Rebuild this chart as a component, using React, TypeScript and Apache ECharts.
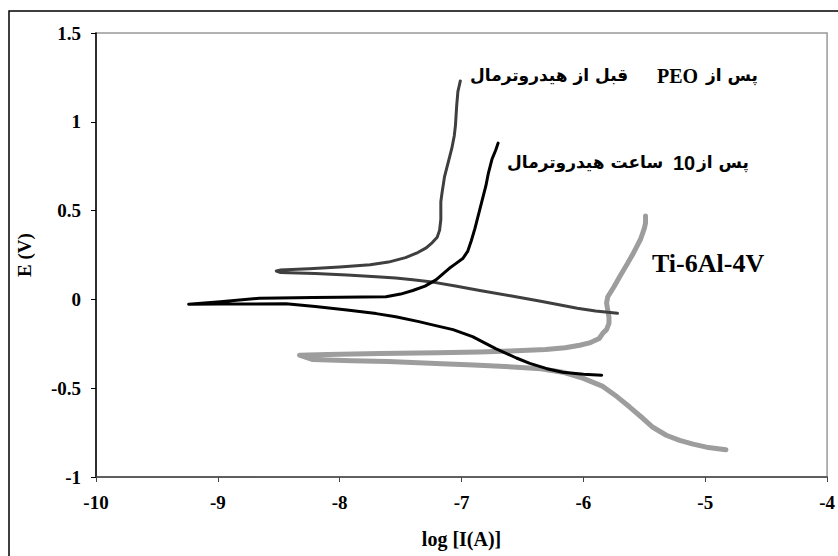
import React, { useEffect, useRef } from "react";
import * as echarts from "echarts";

// Tafel curves: [log I (A), E (V)] pairs in drawing order
const peoBefore: [number, number][] = [
  [-7.01, 1.23], [-7.02, 1.2], [-7.03, 1.17], [-7.04, 1.09], [-7.05, 0.98],
  [-7.06, 0.92], [-7.08, 0.85], [-7.11, 0.77], [-7.14, 0.69], [-7.16, 0.6],
  [-7.17, 0.55], [-7.17, 0.45], [-7.18, 0.39], [-7.2, 0.35], [-7.24, 0.32],
  [-7.29, 0.29], [-7.37, 0.26], [-7.46, 0.235], [-7.6, 0.21], [-7.75, 0.195],
  [-8.0, 0.182], [-8.25, 0.172], [-8.49, 0.165], [-8.52, 0.16],
  [-8.49, 0.152], [-8.2, 0.146], [-7.94, 0.138], [-7.7, 0.128], [-7.54, 0.12],
  [-7.4, 0.11], [-7.26, 0.1], [-7.05, 0.075], [-6.85, 0.05], [-6.6, 0.02],
  [-6.35, -0.01], [-6.2, -0.03], [-6.05, -0.05], [-5.9, -0.065], [-5.72, -0.078],
];

const after10h: [number, number][] = [
  [-6.7, 0.88], [-6.72, 0.84], [-6.75, 0.79], [-6.78, 0.71], [-6.8, 0.64],
  [-6.83, 0.56], [-6.86, 0.48], [-6.89, 0.4], [-6.92, 0.33], [-6.95, 0.27],
  [-6.99, 0.23], [-7.05, 0.2], [-7.1, 0.175], [-7.16, 0.14], [-7.21, 0.11],
  [-7.3, 0.075], [-7.4, 0.05], [-7.5, 0.03], [-7.62, 0.015], [-8.0, 0.012],
  [-8.22, 0.011], [-8.5, 0.008], [-8.66, 0.006], [-8.98, -0.013], [-9.24, -0.027],
  [-8.98, -0.026], [-8.44, -0.025], [-8.2, -0.04], [-7.94, -0.06], [-7.7, -0.08],
  [-7.54, -0.098], [-7.35, -0.125], [-7.23, -0.145], [-7.07, -0.17], [-6.91, -0.21],
  [-6.72, -0.277], [-6.55, -0.33], [-6.44, -0.36], [-6.3, -0.39], [-6.17, -0.41],
  [-6.0, -0.422], [-5.85, -0.427],
];

const tiAlloy: [number, number][] = [
  [-5.49, 0.47], [-5.49, 0.43], [-5.5, 0.4], [-5.53, 0.34], [-5.56, 0.3],
  [-5.59, 0.26], [-5.64, 0.2], [-5.7, 0.13], [-5.75, 0.07], [-5.8, 0.015],
  [-5.81, -0.02], [-5.8, -0.06], [-5.79, -0.1], [-5.79, -0.135], [-5.81, -0.17],
  [-5.84, -0.19], [-5.87, -0.22], [-5.95, -0.245], [-6.03, -0.258], [-6.15, -0.272],
  [-6.31, -0.282], [-6.6, -0.29], [-6.85, -0.296], [-7.2, -0.3], [-7.67, -0.305],
  [-8.1, -0.31], [-8.33, -0.314],
  [-8.22, -0.339], [-7.9, -0.345], [-7.6, -0.35], [-7.21, -0.361], [-6.9, -0.37],
  [-6.58, -0.38], [-6.35, -0.39], [-6.17, -0.41], [-6.0, -0.445], [-5.84, -0.49],
  [-5.72, -0.55], [-5.62, -0.606], [-5.52, -0.665], [-5.43, -0.72], [-5.32, -0.765],
  [-5.21, -0.794], [-5.1, -0.815], [-4.99, -0.832], [-4.83, -0.846],
];

const seriesNames = ["PEO before hydrothermal", "10 h hydrothermal", "Ti-6Al-4V"];
const xTicks = { min: -10, max: -4, interval: 1 };
const yTicks = { min: -1, max: 1.5, interval: 0.5 };

const serif = "'Liberation Serif', 'Times New Roman', serif";
const arabic = "'DejaVu Sans', sans-serif";

export default function App() {
  const ref = useRef<HTMLDivElement>(null);
  useEffect(() => {
    if (!ref.current) return;
    const chart = echarts.init(ref.current, null, { renderer: "svg" });
    const axisLabel = { fontFamily: serif, fontWeight: "bold", fontSize: 19, color: "#000" };
    const lineBase = { type: "line", showSymbol: false, smooth: false };
    const txt = (x: number, y: number, text: string, font: string) => ({
      type: "text", x, y,
      style: { text, font, fill: "#000", textAlign: "left", textVerticalAlign: "middle" },
    });
    chart.setOption({
      animation: false,
      backgroundColor: "#fff",
      grid: {
        left: 96, top: 33, right: 10, bottom: 79,
        show: true, borderColor: "#999", borderWidth: 1.5, backgroundColor: "transparent",
      },
      xAxis: {
        type: "value",
        ...xTicks,
        name: "log [I(A)]",
        nameLocation: "middle",
        nameGap: 52,
        nameTextStyle: { ...axisLabel, fontSize: 20 },
        axisLine: { show: true, onZero: false, lineStyle: { color: "#444", width: 1.5 } },
        axisTick: { show: true, inside: false, length: 5, lineStyle: { color: "#444" } },
        axisLabel: { ...axisLabel, margin: 16 },
        splitLine: { show: false },
      },
      yAxis: {
        type: "value",
        ...yTicks,
        name: "E (V)",
        nameLocation: "middle",
        nameRotate: 90,
        nameGap: 62,
        nameTextStyle: { ...axisLabel },
        axisLine: { show: true, onZero: false, lineStyle: { color: "#000", width: 1.5 } },
        axisTick: { show: true, inside: false, length: 5, lineStyle: { color: "#000" } },
        axisLabel: { ...axisLabel, margin: 15 },
        splitLine: { show: false },
      },
      series: [
        {
          ...lineBase, name: seriesNames[2], data: tiAlloy,
          lineStyle: { color: "#9d9d9d", width: 5, cap: "round", join: "round" }, z: 2,
        },
        {
          ...lineBase, name: seriesNames[0], data: peoBefore,
          lineStyle: { color: "#3f3f3f", width: 3, cap: "round", join: "round" }, z: 3,
        },
        {
          ...lineBase, name: seriesNames[1], data: after10h,
          lineStyle: { color: "#000", width: 3, cap: "round", join: "round" }, z: 4,
        },
      ],
      graphic: [
        {
          type: "rect", silent: true,
          shape: { x: 9, y: 11, width: 900, height: 700 },
          style: { fill: "none", stroke: "#000", lineWidth: 1.5 },
        },
        txt(470, 75, "قبل از هیدروترمال", `bold 17px ${arabic}`),
        txt(657, 76, "PEO", `bold 20px ${serif}`),
        txt(706, 75, "پس از", `bold 17px ${arabic}`),
        txt(507, 162, "ساعت هیدروترمال", `bold 17px ${arabic}`),
        txt(673, 163, "10", `bold 20px 'Liberation Sans', Arial, sans-serif`),
        txt(697, 162, "پس از", `bold 17px ${arabic}`),
        txt(652, 263, "Ti-6Al-4V", `bold 26px ${serif}`),
      ],
    });
    return () => chart.dispose();
  }, []);
  return (
    <div
      ref={ref}
      style={{ position: "fixed", left: 0, top: 0, width: 838, height: 556, background: "#fff" }}
    />
  );
}
